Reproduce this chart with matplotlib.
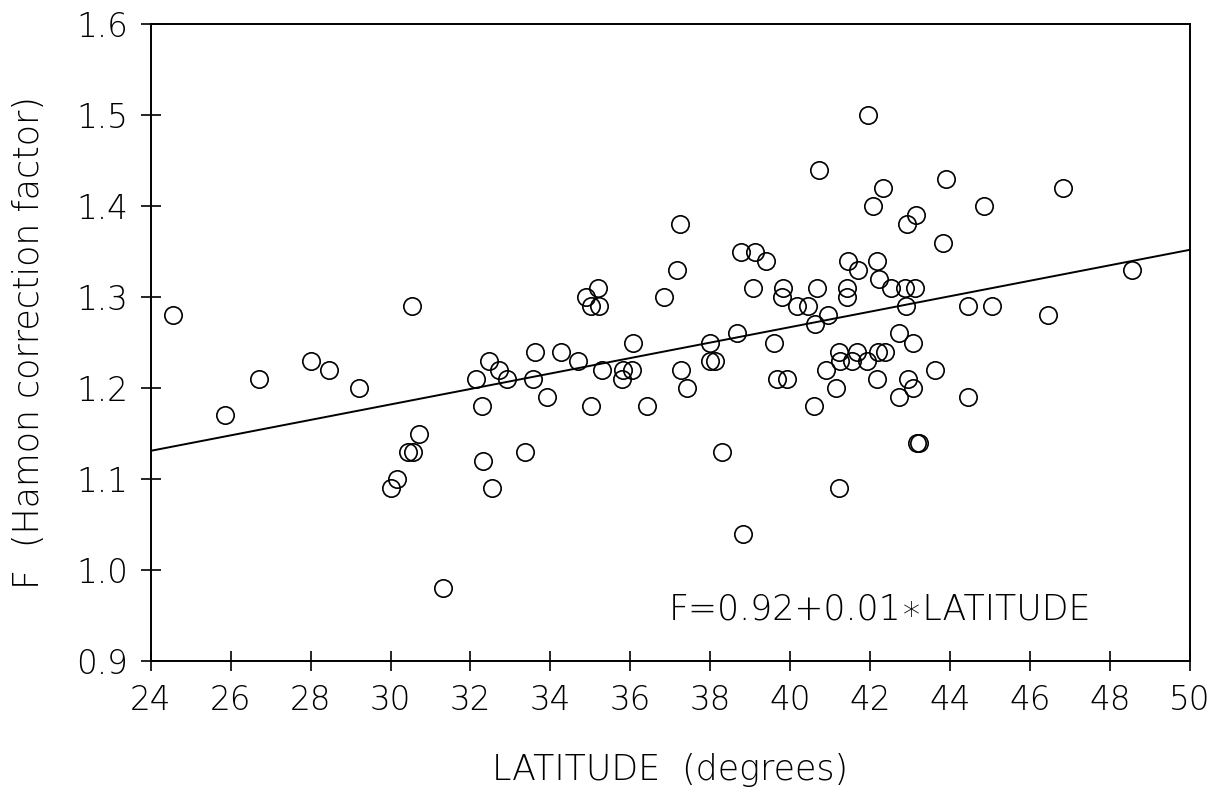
import matplotlib
matplotlib.use("Agg")
import matplotlib.pyplot as plt

# latitude (degrees) and Hamon correction factor
latitude = [
    24.57, 25.86, 26.72, 28.00, 28.47, 29.21, 30.53, 30.72, 30.44, 30.57,
    30.17, 30.00, 31.32, 32.47, 32.72, 32.91, 32.13, 32.30, 32.32, 32.53,
    33.36, 33.56, 33.61,
    37.24, 38.76, 39.12, 39.39, 37.17, 41.45, 35.18, 34.89, 35.02, 35.22,
    36.84, 39.06, 39.83, 39.79, 40.66, 40.16, 40.45, 41.41, 41.41, 40.95,
    40.62, 38.68, 37.99, 39.59, 36.06, 34.26, 34.70, 35.30, 35.81, 36.03,
    35.80, 37.99, 38.11, 37.28, 37.42, 33.92, 35.01, 36.41, 39.66, 39.93,
    41.23, 41.25, 40.90, 41.15, 40.60, 38.30, 41.22, 38.81,
    41.95, 40.73, 43.89, 42.33, 46.82, 42.06, 44.86, 43.15, 42.91, 43.83,
    41.69, 42.18, 42.23, 42.52, 42.87, 43.12, 42.90, 44.46, 45.04, 46.46,
    48.56, 42.73, 43.08, 41.66, 42.20, 42.37, 41.54, 41.93, 43.62, 42.18,
    42.95, 43.08, 42.72, 44.44, 43.17, 43.21,
]
factor = [
    1.28, 1.17, 1.21, 1.23, 1.22, 1.20, 1.29, 1.15, 1.13, 1.13,
    1.10, 1.09, 0.98, 1.23, 1.22, 1.21, 1.21, 1.18, 1.12, 1.09,
    1.13, 1.21, 1.24,
    1.38, 1.35, 1.35, 1.34, 1.33, 1.34, 1.31, 1.30, 1.29, 1.29,
    1.30, 1.31, 1.31, 1.30, 1.31, 1.29, 1.29, 1.31, 1.30, 1.28,
    1.27, 1.26, 1.25, 1.25, 1.25, 1.24, 1.23, 1.22, 1.22, 1.22,
    1.21, 1.23, 1.23, 1.22, 1.20, 1.19, 1.18, 1.18, 1.21, 1.21,
    1.24, 1.23, 1.22, 1.20, 1.18, 1.13, 1.09, 1.04,
    1.50, 1.44, 1.43, 1.42, 1.42, 1.40, 1.40, 1.39, 1.38, 1.36,
    1.33, 1.34, 1.32, 1.31, 1.31, 1.31, 1.29, 1.29, 1.29, 1.28,
    1.33, 1.26, 1.25, 1.24, 1.24, 1.24, 1.23, 1.23, 1.22, 1.21,
    1.21, 1.20, 1.19, 1.19, 1.14, 1.14,
]

# fitted line as drawn on the figure
intercept = 0.927
slope = 0.0085
line_x = [24, 50]

xticks = list(range(24, 51, 2))
yticks = [0.9, 1.0, 1.1, 1.2, 1.3, 1.4, 1.5, 1.6]

plt.rcParams["font.family"] = ["DejaVu Sans"]

fig = plt.figure(figsize=(12.28, 7.98), dpi=100)
ax = fig.add_axes([0.1227, 0.1717, 0.8463, 0.798])

ax.plot(latitude, factor, linestyle="none", marker="o", markersize=12.5,
        markerfacecolor="none", markeredgecolor="black", markeredgewidth=1.2)
ax.plot(line_x, [intercept + slope * x for x in line_x], color="black", linewidth=1.4)

ax.set_xlim(24, 50)
ax.set_ylim(0.9, 1.6)
ax.set_xticks(xticks)
ax.set_yticks(yticks)
ax.set_xticklabels([str(t) for t in xticks])
ax.set_yticklabels([f"{t:.1f}" for t in yticks])
ax.tick_params(direction="inout", length=14.5, width=1.2, labelsize=23.5, pad=9)
for s in ax.spines.values():
    s.set_linewidth(1.4)

for lab in ax.get_xticklabels() + ax.get_yticklabels():
    lab.set_fontweight("light")

ax.set_xlabel("LATITUDE  (degrees)", fontsize=25, fontweight="light", labelpad=26)
ax.set_ylabel("F  (Hamon correction factor)", fontsize=25, fontweight="light", labelpad=22)

# centred star like the plotter font uses
ax.text(36.95, 0.946, "F=0.92+0.01\u2217LATITUDE", fontsize=25, fontweight="light",
        ha="left", va="baseline")

fig.savefig("out.png", dpi=100)
